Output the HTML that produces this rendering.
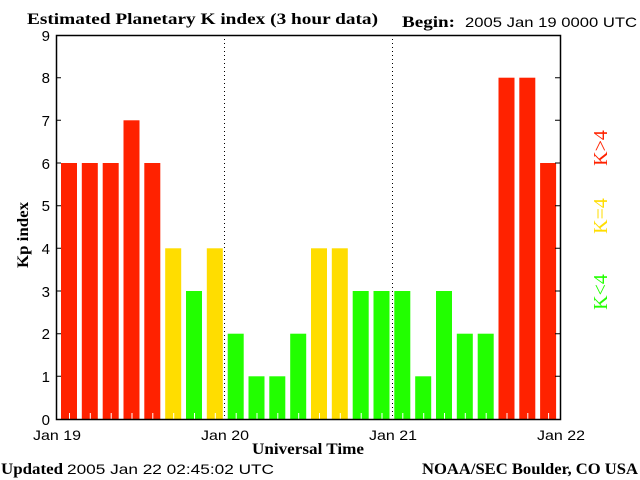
<!DOCTYPE html>
<html><head><style>
body{margin:0;background:#fff;}
svg{display:block;}
</style></head><body>
<svg width="640" height="480" xmlns="http://www.w3.org/2000/svg">
<rect width="640" height="480" fill="#fff"/>
<g>
<rect x="61" y="163" width="16" height="256" fill="#ff2200"/>
<rect x="81.8" y="163" width="16" height="256" fill="#ff2200"/>
<rect x="102.7" y="163" width="16" height="256" fill="#ff2200"/>
<rect x="123.5" y="120.3" width="16" height="298.7" fill="#ff2200"/>
<rect x="144.3" y="163" width="16" height="256" fill="#ff2200"/>
<rect x="165.2" y="248.3" width="16" height="170.7" fill="#ffdd00"/>
<rect x="186" y="291" width="16" height="128" fill="#22ff00"/>
<rect x="206.8" y="248.3" width="16" height="170.7" fill="#ffdd00"/>
<rect x="227.7" y="333.7" width="16" height="85.3" fill="#22ff00"/>
<rect x="248.5" y="376.3" width="16" height="42.7" fill="#22ff00"/>
<rect x="269.3" y="376.3" width="16" height="42.7" fill="#22ff00"/>
<rect x="290.2" y="333.7" width="16" height="85.3" fill="#22ff00"/>
<rect x="311" y="248.3" width="16" height="170.7" fill="#ffdd00"/>
<rect x="331.8" y="248.3" width="16" height="170.7" fill="#ffdd00"/>
<rect x="352.7" y="291" width="16" height="128" fill="#22ff00"/>
<rect x="373.5" y="291" width="16" height="128" fill="#22ff00"/>
<rect x="394.3" y="291" width="16" height="128" fill="#22ff00"/>
<rect x="415.2" y="376.3" width="16" height="42.7" fill="#22ff00"/>
<rect x="436" y="291" width="16" height="128" fill="#22ff00"/>
<rect x="456.8" y="333.7" width="16" height="85.3" fill="#22ff00"/>
<rect x="477.7" y="333.7" width="16" height="85.3" fill="#22ff00"/>
<rect x="498.5" y="77.7" width="16" height="341.3" fill="#ff2200"/>
<rect x="519.3" y="77.7" width="16" height="341.3" fill="#ff2200"/>
<rect x="540.1" y="163" width="16" height="256" fill="#ff2200"/>
</g>
<g stroke="#fff" stroke-width="1">
<path d="M69.5 413V419M90.3 413V419M111.2 413V419M132 413V419M152.8 413V419M173.7 413V419M194.5 413V419M215.3 413V419M236.2 413V419M257 413V419M277.8 413V419M298.7 413V419M319.5 413V419M340.3 413V419M361.2 413V419M382 413V419M402.8 413V419M423.7 413V419M444.5 413V419M465.3 413V419M486.2 413V419M507 413V419M527.8 413V419M548.6 413V419"/>
</g>
<g stroke="#000" stroke-width="1">
<path d="M56 376.3H61M56 333.7H61M56 291H61M56 248.3H61M56 205.7H61M56 163H61M56 120.3H61M56 77.7H61M555 376.3H560M555 333.7H560M555 291H560M555 248.3H560M555 205.7H560M555 163H560M555 120.3H560M555 77.7H560"/>
</g>
<line x1="224.5" y1="35" x2="224.5" y2="419" stroke="#000" stroke-dasharray="1,3"/>
<line x1="392.5" y1="35" x2="392.5" y2="419" stroke="#000" stroke-dasharray="1,3"/>
<rect x="56.5" y="35.5" width="504" height="384" fill="none" stroke="#000" stroke-width="1.5"/>
<g font-family="Liberation Sans,sans-serif" font-size="15" text-anchor="end">
<text x="50" y="425">0</text>
<text x="50" y="382">1</text>
<text x="50" y="339">2</text>
<text x="50" y="297">3</text>
<text x="50" y="254">4</text>
<text x="50" y="211">5</text>
<text x="50" y="169">6</text>
<text x="50" y="126">7</text>
<text x="50" y="83">8</text>
<text x="50" y="41">9</text>
</g>
<g font-family="Liberation Sans,sans-serif" font-size="14">
<text x="33" y="440" textLength="48" lengthAdjust="spacingAndGlyphs">Jan 19</text>
<text x="201" y="440" textLength="48" lengthAdjust="spacingAndGlyphs">Jan 20</text>
<text x="369" y="440" textLength="48" lengthAdjust="spacingAndGlyphs">Jan 21</text>
<text x="537" y="440" textLength="48" lengthAdjust="spacingAndGlyphs">Jan 22</text>
<text x="465" y="27" textLength="172" lengthAdjust="spacingAndGlyphs">2005 Jan 19 0000 UTC</text>
<text x="67" y="474" textLength="207" lengthAdjust="spacingAndGlyphs">2005 Jan 22 02:45:02 UTC</text>
</g>
<g font-family="Liberation Serif,serif" font-weight="bold" font-size="16">
<text x="27" y="24" textLength="351" lengthAdjust="spacingAndGlyphs">Estimated Planetary K index (3 hour data)</text>
<text x="402" y="27" textLength="53" lengthAdjust="spacingAndGlyphs">Begin:</text>
<text x="252" y="454" textLength="112" lengthAdjust="spacingAndGlyphs">Universal Time</text>
<text x="1" y="474" textLength="62" lengthAdjust="spacingAndGlyphs">Updated</text>
<text x="422" y="474" textLength="216" lengthAdjust="spacingAndGlyphs">NOAA/SEC Boulder, CO USA</text>
<text transform="translate(28,268) rotate(-90)" textLength="66" lengthAdjust="spacingAndGlyphs">Kp index</text>
</g>
<g font-family="Liberation Serif,serif" font-size="20" text-anchor="middle">
<text transform="translate(607,148) rotate(-90)" fill="#ff2200">K&gt;4</text>
<text transform="translate(607,216) rotate(-90)" fill="#ffdd00">K=4</text>
<text transform="translate(607,292) rotate(-90)" fill="#22ff00">K&lt;4</text>
</g>
</svg>
</body></html>
